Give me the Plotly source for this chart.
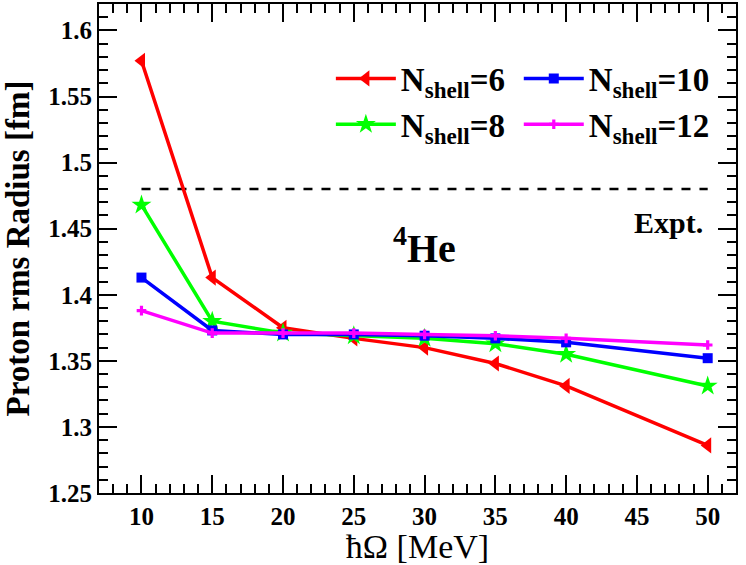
import plotly.graph_objects as go

hw = [10, 15, 20, 25, 30, 35, 40, 50]
r_n6 = [1.577, 1.413, 1.375, 1.367, 1.360, 1.348, 1.331, 1.286]
r_n8 = [1.468, 1.380, 1.371, 1.369, 1.367, 1.363, 1.355, 1.331]
r_n10 = [1.413, 1.373, 1.370, 1.370, 1.369, 1.367, 1.364, 1.352]
r_n12 = [1.388, 1.371, 1.371, 1.371, 1.370, 1.369, 1.367, 1.362]
expt_radius = 1.480
expt_x = [10, 50]
y_ticks = [1.25, 1.3, 1.35, 1.4, 1.45, 1.5, 1.55, 1.6]
y_ticktext = ["1.25", "1.3", "1.35", "1.4", "1.45", "1.5", "1.55", "1.6"]

FONT = "Liberation Serif"

series = [
    ("N<sub>shell</sub>=6", r_n6, "#ff0000", "triangle-left", 14, "legend"),
    ("N<sub>shell</sub>=8", r_n8, "#00ff00", "star", 15, "legend"),
    ("N<sub>shell</sub>=10", r_n10, "#0000ff", "square", 10, "legend2"),
    ("N<sub>shell</sub>=12", r_n12, "#ff00ff", "cross", 8, "legend2"),
]

fig = go.Figure()
fig.add_trace(go.Scatter(x=expt_x, y=[expt_radius] * 2, mode="lines",
                         line=dict(color="black", width=2.5, dash="dash"),
                         showlegend=False))
for name, vals, col, sym, size, leg in series:
    fig.add_trace(go.Scatter(x=hw, y=vals, mode="lines+markers", name=name,
                             legend=leg,
                             line=dict(color=col, width=3.5),
                             marker=dict(symbol=sym, size=size, color=col)))

axis_common = dict(showline=True, linewidth=2, linecolor="black", mirror="allticks",
                   ticks="inside", ticklen=18, tickwidth=2, tickcolor="black",
                   showgrid=False, zeroline=False, automargin=False,
                   tickfont=dict(family=FONT, size=25, color="black", weight="bold"))

fig.update_xaxes(range=[7, 52], dtick=5, tick0=0,
                 minor=dict(dtick=1, ticklen=9, tickwidth=1.5, tickcolor="black", ticks="inside"),
                 title=dict(text="ħΩ [MeV]", font=dict(family=FONT, size=34, color="black")),
                 **axis_common)
fig.update_yaxes(range=[1.25, 1.62], tickvals=y_ticks, ticktext=y_ticktext,
                 minor=dict(dtick=0.01, tick0=1.25, ticklen=9, tickwidth=1.5,
                            tickcolor="black", ticks="inside"),
                 title=dict(text="Proton rms Radius [fm]",
                            font=dict(family=FONT, size=33, color="black", weight="bold")),
                 **axis_common)

fig.add_annotation(x=47.2, y=1.455, text="<b>Expt.</b>", showarrow=False,
                   font=dict(family=FONT, size=30, color="black"))
fig.add_annotation(x=30, y=1.437, text="<b><sup>4</sup>He</b>", showarrow=False,
                   font=dict(family=FONT, size=40, color="black"))

leg_common = dict(orientation="v", yanchor="top", xanchor="left",
                  bgcolor="rgba(0,0,0,0)", traceorder="normal",
                  font=dict(family=FONT, size=33, color="black", weight="bold"),
                  itemwidth=60, tracegroupgap=0)

fig.update_layout(
    width=746, height=565,
    margin=dict(l=99, r=10, t=4, b=72),
    paper_bgcolor="white", plot_bgcolor="white",
    legend=dict(x=0.364, y=0.905, **leg_common),
    legend2=dict(x=0.659, y=0.905, **leg_common),
    showlegend=True,
)

fig.write_html("out.html", config={"displayModeBar": False},
               post_script="document.body.style.margin='0';document.body.style.overflow='hidden';")
